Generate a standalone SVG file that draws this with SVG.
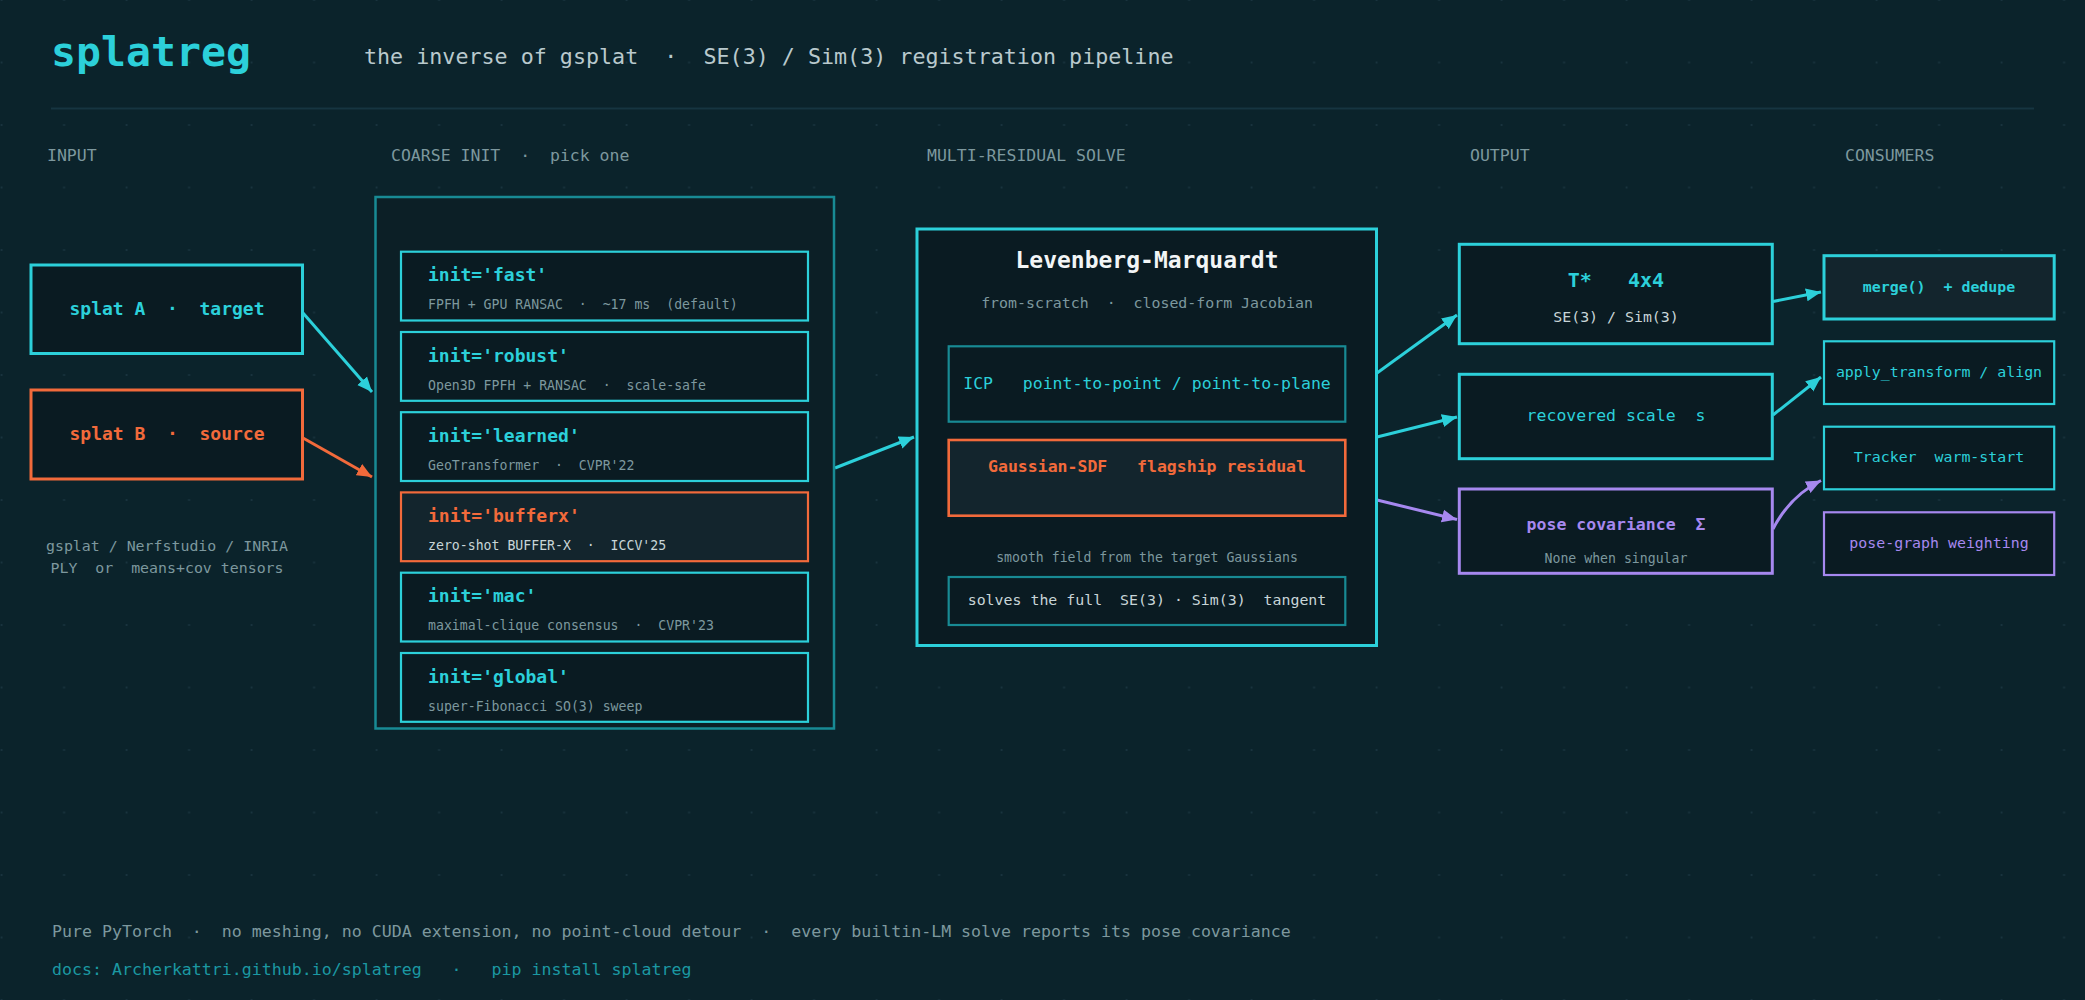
<svg xmlns="http://www.w3.org/2000/svg" width="2085" height="1000" viewBox="0 0 2085 1000" xml:space="preserve">
<defs>
<pattern id="dots" patternUnits="userSpaceOnUse" x="0" y="0" width="62.5" height="62.5">
<circle cx="1.6" cy="0" r="1.1" fill="#1a3540"/>
<circle cx="1.6" cy="62.5" r="1.1" fill="#1a3540"/>
</pattern>
<marker id="ah-c" markerUnits="userSpaceOnUse" markerWidth="16" markerHeight="14" refX="15" refY="7" orient="auto"><path d="M0,0.5 L15,7 L0,13.5 z" fill="#2cd0da"/></marker>
<marker id="ah-o" markerUnits="userSpaceOnUse" markerWidth="16" markerHeight="14" refX="15" refY="7" orient="auto"><path d="M0,0.5 L15,7 L0,13.5 z" fill="#f26a3b"/></marker>
<marker id="ah-p" markerUnits="userSpaceOnUse" markerWidth="16" markerHeight="14" refX="15" refY="7" orient="auto"><path d="M0,0.5 L15,7 L0,13.5 z" fill="#a688ef"/></marker>
<style>
text{font-family:"DejaVu Sans Mono","Liberation Mono",monospace;white-space:pre}
.hdr{font-size:16.5px;fill:#7d989e}
.box{fill:#0a1b22;stroke:#2cd0da;stroke-width:3}
.box2{fill:#0a1b22;stroke:#2cd0da;stroke-width:2.2}
.hi{fill:#13252d}
.org{stroke:#f26a3b}
.pur{stroke:#a688ef}
.teal{fill:#0a1b22;stroke:#188a94;stroke-width:2.2}
.t-c{fill:#2cd0da}
.t-o{fill:#f26a3b}
.t-p{fill:#a688ef}
.t-g{fill:#7d989e}
.t-l{fill:#c8d5d8}
.b{font-weight:bold}
.it{font-size:18px;font-weight:bold}
.is{font-size:13.2px}
.mid{text-anchor:middle}
.con{fill:none;stroke-width:3}
</style>
</defs>
<rect width="2085" height="1000" fill="#0b232b"/>
<rect width="2085" height="1000" fill="url(#dots)"/>
<text x="51" y="66" font-size="41.5" font-weight="bold" class="t-c">splatreg</text>
<text x="364" y="64" font-size="21.7" fill="#b9c9cd">the inverse of gsplat  ·  SE(3) / Sim(3) registration pipeline</text>
<line x1="51" y1="108.5" x2="2034" y2="108.5" stroke="#163541" stroke-width="2"/>
<text class="hdr" x="47" y="161">INPUT</text>
<text class="hdr" x="391" y="161">COARSE INIT  ·  pick one</text>
<text class="hdr" x="927" y="161">MULTI-RESIDUAL SOLVE</text>
<text class="hdr" x="1470" y="161">OUTPUT</text>
<text class="hdr" x="1845" y="161">CONSUMERS</text>
<g id="connectors">
<line class="con" x1="303" y1="313" x2="372" y2="392" stroke="#2cd0da" marker-end="url(#ah-c)"/>
<line class="con" x1="303" y1="438" x2="372" y2="477" stroke="#f26a3b" marker-end="url(#ah-o)"/>
<line class="con" x1="835" y1="468" x2="914" y2="437" stroke="#2cd0da" marker-end="url(#ah-c)"/>
<line class="con" x1="1377" y1="373" x2="1457" y2="315" stroke="#2cd0da" marker-end="url(#ah-c)"/>
<line class="con" x1="1377" y1="437" x2="1457" y2="417" stroke="#2cd0da" marker-end="url(#ah-c)"/>
<line class="con" x1="1377" y1="500" x2="1457" y2="519.5" stroke="#a688ef" marker-end="url(#ah-p)"/>
<line class="con" x1="1773" y1="301.5" x2="1821" y2="292" stroke="#2cd0da" marker-end="url(#ah-c)"/>
<line class="con" x1="1773" y1="415" x2="1821" y2="377" stroke="#2cd0da" marker-end="url(#ah-c)"/>
<path class="con" d="M1773,529 Q1790,496 1821,480.5" stroke="#a688ef" marker-end="url(#ah-p)"/>
</g>
<g id="splatA">
<rect class="box" x="31" y="265" width="271.5" height="88.5"/>
<text x="167" y="315" font-size="18" class="t-c b mid">splat A  ·  target</text>
</g>
<g id="splatB">
<rect class="box org" x="31" y="390" width="271.5" height="89"/>
<text x="167" y="440" font-size="18" class="t-o b mid">splat B  ·  source</text>
</g>
<g id="input-caption">
<text x="167" y="551" font-size="14.9" class="t-g mid">gsplat / Nerfstudio / INRIA</text>
<text x="167" y="573" font-size="14.9" class="t-g mid">PLY  or  means+cov tensors</text>
</g>
<g id="coarse-init">
<rect x="375.5" y="197" width="458.5" height="531.5" fill="#0c1f26" stroke="#188a94" stroke-width="2.5"/>
</g>
<g id="init-fast">
<rect class="box2" x="401" y="251.7" width="407" height="68.8"/>
<text x="428" y="281.2" class="it t-c">init='fast'</text>
<text x="428" y="309.3" class="is t-g">FPFH + GPU RANSAC  ·  ~17 ms  (default)</text>
</g>
<g id="init-robust">
<rect class="box2" x="401" y="332" width="407" height="68.8"/>
<text x="428" y="361.5" class="it t-c">init='robust'</text>
<text x="428" y="389.6" class="is t-g">Open3D FPFH + RANSAC  ·  scale-safe</text>
</g>
<g id="init-learned">
<rect class="box2" x="401" y="412.2" width="407" height="68.8"/>
<text x="428" y="441.7" class="it t-c">init='learned'</text>
<text x="428" y="469.8" class="is t-g">GeoTransformer  ·  CVPR'22</text>
</g>
<g id="init-bufferx">
<rect class="box2 hi org" x="401" y="492.4" width="407" height="68.8" stroke-width="3"/>
<text x="428" y="521.9" class="it t-o">init='bufferx'</text>
<text x="428" y="550" class="is t-l">zero-shot BUFFER-X  ·  ICCV'25</text>
</g>
<g id="init-mac">
<rect class="box2" x="401" y="572.7" width="407" height="68.8"/>
<text x="428" y="602.2" class="it t-c">init='mac'</text>
<text x="428" y="630.3" class="is t-g">maximal-clique consensus  ·  CVPR'23</text>
</g>
<g id="init-global">
<rect class="box2" x="401" y="653" width="407" height="68.8"/>
<text x="428" y="682.5" class="it t-c">init='global'</text>
<text x="428" y="710.6" class="is t-g">super-Fibonacci SO(3) sweep</text>
</g>
<g id="lm">
<rect class="box" x="917" y="229" width="459.5" height="416.5" fill="#0c1e25"/>
<text x="1147" y="268" font-size="23" class="b mid" fill="#f2f5f6">Levenberg-Marquardt</text>
<text x="1147" y="308.3" font-size="14.9" class="t-g mid">from-scratch  ·  closed-form Jacobian</text>
<text x="1147" y="562.3" font-size="13.2" class="t-g mid">smooth field from the target Gaussians</text>
</g>
<g id="icp">
<rect class="teal" x="948.7" y="346.3" width="396.6" height="75.4"/>
<text x="1147" y="389.3" font-size="16.5" class="t-c mid">ICP   point-to-point / point-to-plane</text>
</g>
<g id="gsdf">
<rect class="hi" x="948.7" y="440" width="396.6" height="75.7" stroke="#f26a3b" stroke-width="2.6"/>
<text x="1147" y="472.3" font-size="16.5" class="t-o b mid">Gaussian-SDF   flagship residual</text>
</g>
<g id="tangent">
<rect class="teal" x="948.7" y="577" width="396.6" height="48"/>
<text x="1147" y="605" font-size="14.9" class="t-l mid">solves the full  SE(3) · Sim(3)  tangent</text>
</g>
<g id="out-T">
<rect class="box" x="1459.3" y="244.3" width="313" height="99.4"/>
<text x="1616" y="287.3" font-size="20" class="t-c b mid">T*   4x4</text>
<text x="1616" y="321.7" font-size="14.9" class="t-l mid">SE(3) / Sim(3)</text>
</g>
<g id="out-scale">
<rect class="box" x="1459.3" y="374.3" width="313" height="84.4"/>
<text x="1616" y="420.7" font-size="16.5" class="t-c mid">recovered scale  s</text>
</g>
<g id="out-cov">
<rect class="box pur" x="1459.3" y="489" width="313" height="84.3"/>
<text x="1616" y="530" font-size="16.5" class="t-p b mid">pose covariance  Σ</text>
<text x="1616" y="562.7" font-size="13.2" class="t-g mid">None when singular</text>
</g>
<g id="c-merge">
<rect class="box hi" x="1824" y="255.7" width="230.2" height="63.3"/>
<text x="1939" y="291.7" font-size="14.9" class="t-c b mid">merge()  + dedupe</text>
</g>
<g id="c-apply">
<rect class="box2" x="1824" y="341.3" width="230.2" height="62.7"/>
<text x="1939" y="376.7" font-size="14.9" class="t-c mid">apply_transform / align</text>
</g>
<g id="c-tracker">
<rect class="box2" x="1824" y="426.7" width="230.2" height="62.6"/>
<text x="1939" y="462.3" font-size="14.9" class="t-c mid">Tracker  warm-start</text>
</g>
<g id="c-posegraph">
<rect class="box2 pur" x="1824" y="512.3" width="230.2" height="62.7"/>
<text x="1939" y="548.3" font-size="14.9" class="t-p mid">pose-graph weighting</text>
</g>
<text x="52" y="937.3" font-size="16.6" class="t-g">Pure PyTorch  ·  no meshing, no CUDA extension, no point-cloud detour  ·  every builtin-LM solve reports its pose covariance</text>
<text x="52" y="975" font-size="16.6" fill="#1b98a2">docs: Archerkattri.github.io/splatreg   ·   pip install splatreg</text>
</svg>
